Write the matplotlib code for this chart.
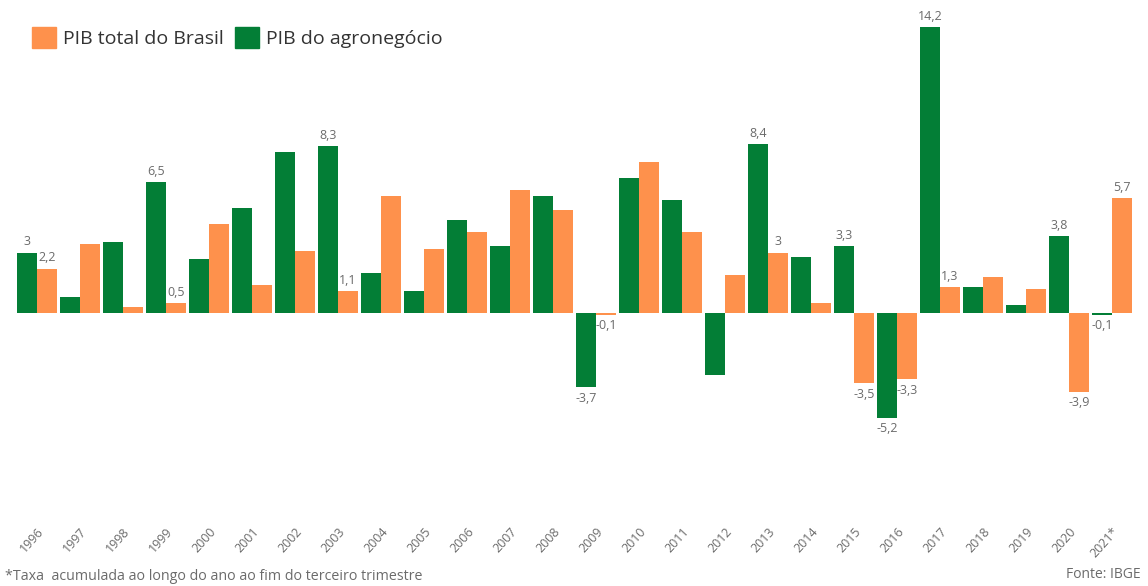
import numpy as np
import matplotlib.pyplot as plt
from matplotlib.patches import Patch

plt.rcParams['font.family'] = ['Open Sans', 'DejaVu Sans']

anos = ['1996', '1997', '1998', '1999', '2000', '2001', '2002', '2003', '2004',
        '2005', '2006', '2007', '2008', '2009', '2010', '2011', '2012', '2013',
        '2014', '2015', '2016', '2017', '2018', '2019', '2020', '2021*']
pib_agro = [3.0, 0.8, 3.5, 6.5, 2.7, 5.2, 8.0, 8.3, 2.0, 1.1, 4.6, 3.3, 5.8,
            -3.7, 6.7, 5.6, -3.1, 8.4, 2.8, 3.3, -5.2, 14.2, 1.3, 0.4, 3.8, -0.1]
pib_total = [2.2, 3.4, 0.3, 0.5, 4.4, 1.4, 3.1, 1.1, 5.8, 3.2, 4.0, 6.1, 5.1,
             -0.1, 7.5, 4.0, 1.9, 3.0, 0.5, -3.5, -3.3, 1.3, 1.8, 1.2, -3.9, 5.7]
# anos com rotulo de valor
rotulados = ['1996', '1999', '2003', '2009', '2013', '2015', '2016', '2017', '2020', '2021*']

verde = '#037e36'
laranja = '#fe914c'
cinza = '#6b6b6b'

fig = plt.figure(figsize=(11.48, 5.86), dpi=100)
ax = fig.add_axes([15.5 / 1148, 71 / 586, 1118 / 1148, 505 / 586])

x = np.arange(len(anos))
w = 0.46
b_agro = ax.bar(x - w / 2, pib_agro, w, color=verde)
b_total = ax.bar(x + w / 2, pib_total, w, color=laranja)

ax.set_xlim(-0.5, len(anos) - 0.5)
ax.set_ylim(-10.03, 15.04)


def fmt(v):
    s = ('%.1f' % v).replace('.', ',')
    return s[:-2] if s.endswith(',0') else s


for bars, vals in [(b_agro, pib_agro), (b_total, pib_total)]:
    for rect, v, ano in zip(bars, vals, anos):
        if ano not in rotulados:
            continue
        cx = rect.get_x() + rect.get_width() / 2
        if v >= 0:
            ax.annotate(fmt(v), (cx, v), xytext=(0, 3), textcoords='offset points',
                        ha='center', va='bottom', fontsize=9, color=cinza)
        else:
            ax.annotate(fmt(v), (cx, v), xytext=(0, -3), textcoords='offset points',
                        ha='center', va='top', fontsize=9, color=cinza)

ax.set_xticks(x)
ax.set_xticklabels(anos, rotation=48, ha='right', va='top', rotation_mode='anchor',
                   fontsize=9, color=cinza)
ax.tick_params(axis='x', length=0, pad=7)
ax.set_yticks([])
for s in ax.spines.values():
    s.set_visible(False)

handles = [Patch(color=laranja), Patch(color=verde)]
fig.legend(handles, ['PIB total do Brasil', 'PIB do agronegócio'],
           loc='upper left', bbox_to_anchor=(14 / 1148, 1 - 10 / 586), ncol=2,
           frameon=False, fontsize=14, handlelength=1.25, handleheight=1.25,
           handletextpad=0.35, columnspacing=0.6, labelcolor='#333333')

fig.text(5 / 1148, 1 - 577 / 586, '*Taxa  acumulada ao longo do ano ao fim do terceiro trimestre',
         ha='left', va='center', fontsize=10.3, color=cinza)
fig.text(1141 / 1148, 1 - 574 / 586, 'Fonte: IBGE', ha='right', va='center',
         fontsize=10, color=cinza)

fig.savefig('out.png', dpi=100)
